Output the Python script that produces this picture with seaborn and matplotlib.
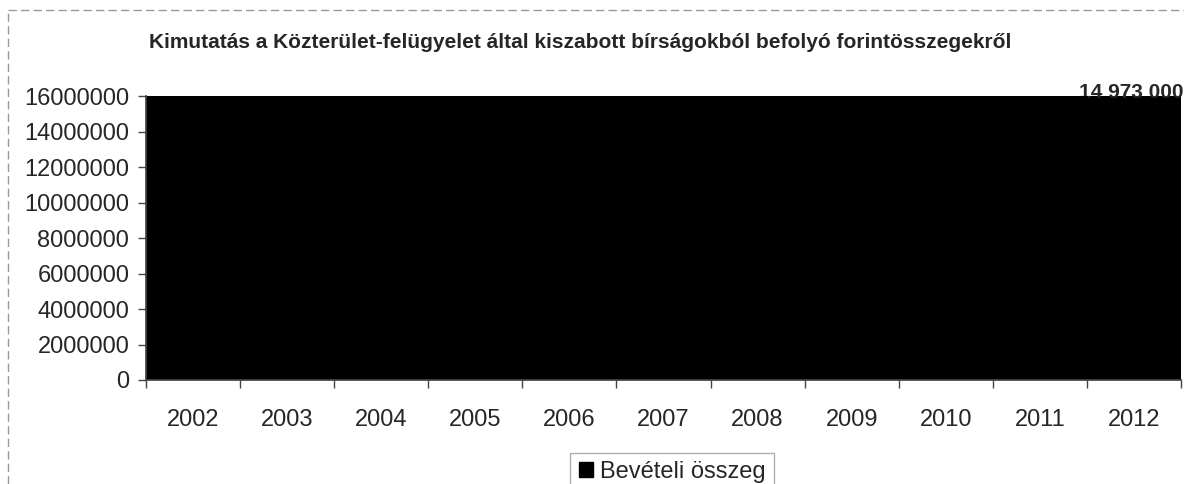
import matplotlib
matplotlib.use("Agg")
import matplotlib.pyplot as plt
import seaborn as sns
import pandas as pd
from matplotlib.lines import Line2D
from matplotlib.patches import Patch

years = ["2002", "2003", "2004", "2005", "2006", "2007", "2008",
         "2009", "2010", "2011", "2012"]
# values as visible: every bar reaches the top of the (scanned, black) plot area
revenue = [16000000, 16000000, 16000000, 16000000, 16000000, 16000000,
           16000000, 16000000, 16000000, 16000000, 14973000]
last_label = "14 973 000"
yticks = [0, 2000000, 4000000, 6000000, 8000000, 10000000, 12000000,
          14000000, 16000000]
title = "Kimutatás a Közterület-felügyelet által kiszabott bírságokból befolyó forintösszegekről"
series_name = "Bevételi összeg"

sns.set_theme(style="white")
plt.rcParams["font.family"] = ["Liberation Sans", "DejaVu Sans"]

df = pd.DataFrame({"year": years, "value": revenue})

fig = plt.figure(figsize=(11.84, 4.84), dpi=100)
ax = fig.add_axes([146 / 1184, 1 - 380 / 484, 1035 / 1184, (380 - 96) / 484])
ax.set_facecolor("black")

sns.barplot(data=df, x="year", y="value", color="black", width=1.0,
            saturation=1, ax=ax, zorder=2)
for p in ax.patches:
    p.set_edgecolor("black")

ax.set_ylim(0, 16000000)
ax.set_xlim(-0.5, len(years) - 0.5)
ax.set_yticks(yticks)
ax.set_yticklabels([str(v) for v in yticks], fontsize=17)
ax.tick_params(axis="y", which="major", left=True, length=6, width=1,
               color="#444444", pad=6)

ax.set_xticks([i - 0.5 for i in range(len(years) + 1)])
ax.set_xticklabels([""] * (len(years) + 1))
ax.set_xticks(list(range(len(years))), minor=True)
ax.set_xticklabels(years, minor=True, fontsize=17)
ax.tick_params(axis="x", which="major", bottom=True, length=6, width=1,
               color="#444444")
ax.tick_params(axis="x", which="minor", bottom=False, length=0, pad=21)

ax.set_xlabel("")
ax.set_ylabel("")
for s in ["top", "right"]:
    ax.spines[s].set_visible(False)
for s in ["left", "bottom"]:
    ax.spines[s].set_color("#444444")

ax.text(len(years) - 1 - 0.03, 16200000, last_label, ha="center", va="center",
        fontsize=15, fontweight="bold", clip_on=False, zorder=1)

fig.text(580 / 1184, 1 - 42 / 484, title, ha="center", va="center",
         fontsize=15, fontweight="bold")

handle = Patch(facecolor="black", edgecolor="black")
leg = fig.legend([handle], [series_name], loc="lower center",
                 bbox_to_anchor=(672 / 1184, -0.04), fontsize=17,
                 frameon=True, fancybox=False, handlelength=0.6,
                 handleheight=0.6, handletextpad=0.3, borderpad=0.35)
leg.get_frame().set_edgecolor("#999999")
leg.get_frame().set_linewidth(1)

fig.add_artist(Line2D([8 / 1184, 1.0], [1 - 10 / 484, 1 - 10 / 484],
                      transform=fig.transFigure, color="#999999",
                      linestyle=(0, (6, 3)), linewidth=1))
fig.add_artist(Line2D([8 / 1184, 8 / 1184], [0.0, 1 - 10 / 484],
                      transform=fig.transFigure, color="#999999",
                      linestyle=(0, (6, 3)), linewidth=1))

fig.savefig("out.png", dpi=100)
